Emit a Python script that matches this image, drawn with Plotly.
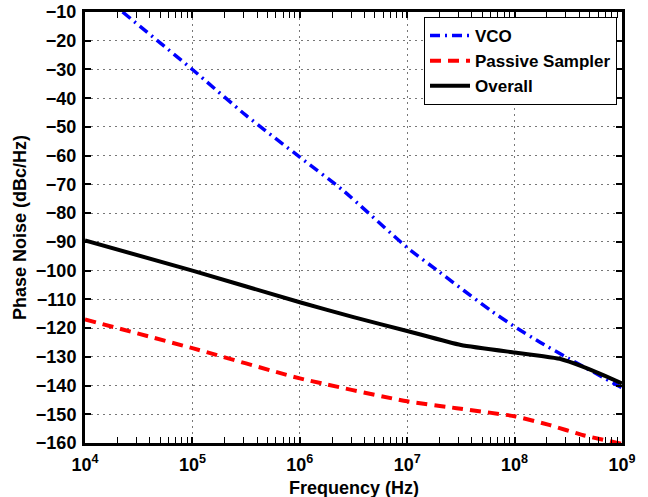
import plotly.graph_objects as go

# Data (log10 frequency, dBc/Hz)
vco_logf = [4.35, 5.0, 5.5, 6.0, 6.4, 7.0, 7.3, 7.77, 8.0, 8.24, 8.5, 9.0]
vco_pn = [-10, -30, -46, -60.5, -72, -92, -100.5, -113.7, -119.5, -125, -130.5, -140.8]

sampler_logf = [4.0, 5.0, 6.0, 7.0, 7.46, 8.0, 8.33, 8.64, 9.0]
sampler_pn = [-117, -127, -137.5, -145.5, -147.9, -150.7, -153.8, -157.3, -160.3]

overall_logf = [4.0, 5.0, 6.0, 6.5, 7.0, 7.5, 8.0, 8.25, 8.42, 8.64, 8.82, 9.0]
overall_pn = [-89.5, -100, -111, -116.2, -121, -125.9, -128.5, -129.7, -130.7, -133.5, -136.3, -139.3]

y_ticks = list(range(-160, -9, 10))
x_tickvals = [1e4, 1e5, 1e6, 1e7, 1e8, 1e9]
x_ticktext = ["10<sup>4</sup>", "10<sup>5</sup>", "10<sup>6</sup>",
              "10<sup>7</sup>", "10<sup>8</sup>", "10<sup>9</sup>"]

FONT = "Liberation Sans, Arial, sans-serif"

fig = go.Figure()
fig.add_trace(go.Scatter(
    x=[10 ** v for v in vco_logf], y=vco_pn, mode="lines", name="VCO",
    line=dict(color="#0000ff", width=3.5, dash="10px,5px,2px,5px", shape="spline", smoothing=0.5)))
fig.add_trace(go.Scatter(
    x=[10 ** v for v in sampler_logf], y=sampler_pn, mode="lines", name="Passive Sampler",
    line=dict(color="#ff0000", width=4, dash="11px,7px", shape="spline", smoothing=0.5)))
fig.add_trace(go.Scatter(
    x=[10 ** v for v in overall_logf], y=overall_pn, mode="lines", name="Overall",
    line=dict(color="#000000", width=4, shape="spline", smoothing=0.5)))

axis_common = dict(
    showline=True, linecolor="black", linewidth=3, mirror="ticks",
    ticks="inside", tickcolor="black", tickwidth=2, ticklen=6,
    showgrid=True, gridcolor="#777777", griddash="2px,4px", gridwidth=1,
    zeroline=False, automargin=False, ticklabeloverflow="allow",
    tickfont=dict(family=FONT, size=18, color="black", weight="bold"),
)

fig.update_xaxes(
    type="log", range=[4, 9], tickvals=x_tickvals, ticktext=x_ticktext,
    ticklabelstandoff=3,
    minor=dict(ticks="inside", dtick="D1", ticklen=6, tickcolor="black", tickwidth=1, showgrid=False),
    **axis_common)
fig.update_yaxes(
    range=[-160, -10], tickvals=y_ticks,
    ticklabelstandoff=2,
    title=dict(text="Phase Noise (dBc/Hz)", font=dict(family=FONT, size=18, color="black", weight="bold"), standoff=5),
    **axis_common)

fig.add_annotation(
    text="Frequency (Hz)", xref="paper", yref="paper", x=0.5, y=0,
    xanchor="center", yanchor="top", yshift=-33, showarrow=False,
    font=dict(family=FONT, size=18, color="black", weight="bold"))

fig.update_layout(
    width=648, height=497,
    margin=dict(l=85, r=26, t=12, b=54),
    paper_bgcolor="white", plot_bgcolor="white",
    showlegend=True,
    legend=dict(
        x=0.9907, y=0.9884, xanchor="right", yanchor="top",
        bgcolor="white", bordercolor="black", borderwidth=1,
        font=dict(family=FONT, size=17, color="black", weight="bold"),
        tracegroupgap=0, itemwidth=40,
    ),
)

fig.write_html("out.html", config={"displayModeBar": False},
               post_script="document.body.style.margin='0';document.body.style.overflow='hidden';")
